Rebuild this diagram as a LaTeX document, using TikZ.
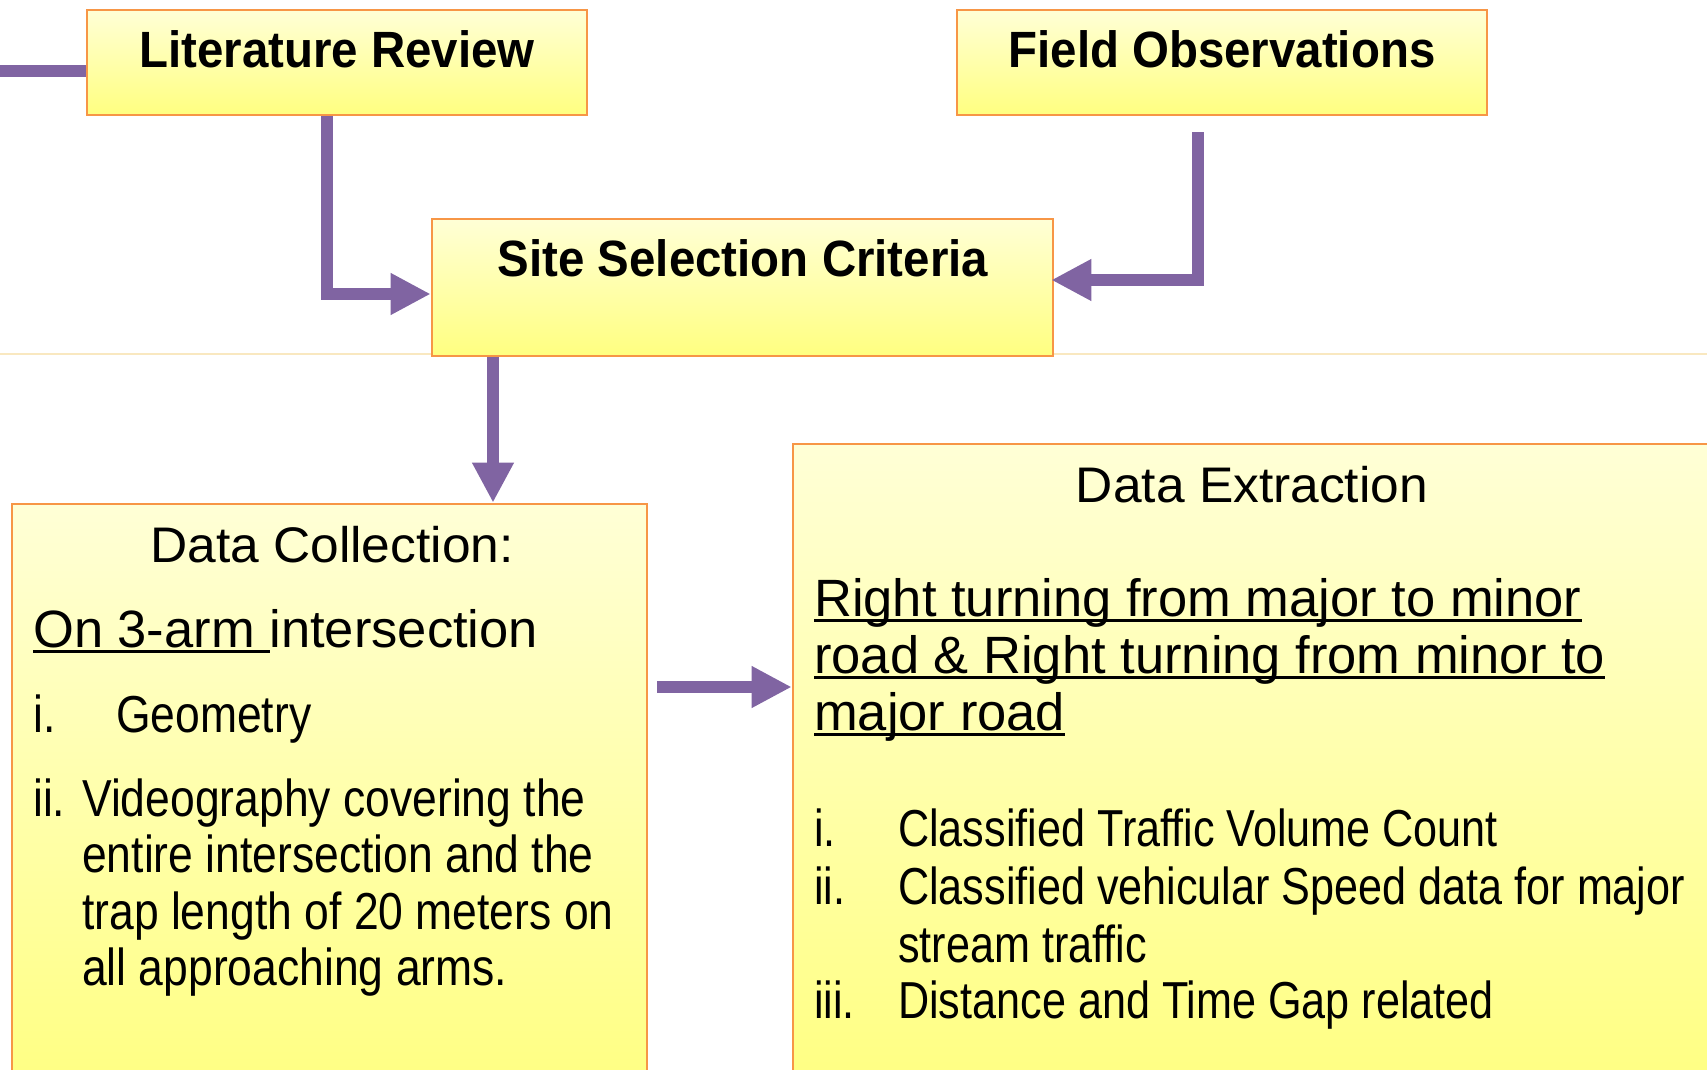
\documentclass[tikz,border=0pt]{standalone}
\usepackage{fontspec}
\setmainfont{Liberation Sans}
\newfontfamily\titlefont[FakeStretch=0.93]{Liberation Sans}
\newfontfamily\headfont[FakeStretch=1.03]{Liberation Sans}
\newfontfamily\condfont[FakeStretch=0.83]{Liberation Sans}
\newfontfamily\condwidefont[FakeStretch=0.855]{Liberation Sans}
\usetikzlibrary{arrows.meta}

\definecolor{boxtop}{RGB}{255,255,214}
\definecolor{boxbot}{RGB}{255,255,128}
\definecolor{boxedge}{RGB}{247,150,70}
\definecolor{flow}{RGB}{128,100,162}
\definecolor{guide}{RGB}{249,232,192}

% underline sitting just under the baseline, crossing the descenders
\newsavebox\ulinebox
\newcommand\uline[1]{\sbox\ulinebox{#1}\rlap{\rule[-6pt]{\wd\ulinebox}{2.6pt}}\usebox\ulinebox}

\tikzset{
  stagebox/.style={draw=boxedge, line width=2.6pt, top color=boxtop, bottom color=boxbot,
    rectangle, inner sep=0pt},
  titletext/.style={inner sep=0pt, anchor=base, font=\titlefont\bfseries\fontsize{51}{60}\selectfont},
  headtext/.style={inner sep=0pt, anchor=base, font=\headfont\fontsize{50}{58}\selectfont},
  ultext/.style={inner sep=0pt, anchor=base west, font=\fontsize{52.5}{58}\selectfont},
  itemtext/.style={inner sep=0pt, anchor=base west, font=\condfont\fontsize{52}{58}\selectfont},
  itemwide/.style={itemtext, font=\condwidefont\fontsize{52}{58}\selectfont},
  flowline/.style={draw=flow, line width=12pt},
  flowarrow/.style={flowline, -{Triangle[length=40pt,width=39pt]}},
}

\begin{document}
\begin{tikzpicture}[x=1pt,y=-1pt]
\useasboundingbox (0,0) rectangle (1707,1070);
\clip (0,0) rectangle (1707,1070);

% faint rule across the page
\draw[guide, line width=1.3pt] (0,354) -- (1707,354);

% boxes
\node[stagebox, minimum width=500pt, minimum height=105pt] (lit) at (337,62.5) {};
\node[stagebox, minimum width=530pt, minimum height=105pt] (field) at (1222,62.5) {};
\node[stagebox, minimum width=621pt, minimum height=137pt] (site) at (742.5,287.5) {};
\node[stagebox, minimum width=635pt, minimum height=600pt] (dc) at (329.5,804) {};
\node[stagebox, minimum width=918pt, minimum height=660pt] (de) at (1252,774) {};

% box titles
\node[titletext] (littxt) at (337,68) {Literature Review};
\node[titletext] (fieldtxt) at (1222,68) {Field Observations};
\node[titletext] (sitetxt) at (743,276) {Site Selection Criteria};

% data collection text
\node[headtext] (dchead) at (332,562) {Data Collection:};
\node[ultext] (dcsub) at (33,647) {\uline{On 3-arm\ }intersection};
\node[itemwide] (dcin1) at (33,732) {i.};
\node[itemwide] (dcit1) at (116,732) {Geometry};
\node[itemwide] (dcin2) at (33,816) {ii.};
\node[itemwide] (dcit2a) at (82,816) {Videography covering the};
\node[itemwide] (dcit2b) at (82,872.5) {entire intersection and the};
\node[itemwide] (dcit2c) at (82,929) {trap length of 20 meters on};
\node[itemwide] (dcit2d) at (82,985) {all approaching arms.};

% data extraction text
\node[headtext] (dehead) at (1252,502) {Data Extraction};
\node[ultext] (desub1) at (814,616) {\uline{Right turning from major to minor}};
\node[ultext] (desub2) at (814,673) {\uline{road \& Right turning from minor to}};
\node[ultext] (desub3) at (814,730) {\uline{major road}};
\node[itemtext] (dein1) at (814,846) {i.};
\node[itemtext] (deit1) at (898,846) {Classified Traffic Volume Count};
\node[itemtext] (dein2) at (814,904) {ii.};
\node[itemtext] (deit2a) at (898,904) {Classified vehicular Speed data for major};
\node[itemtext] (deit2b) at (898,962) {stream traffic};
\node[itemtext] (dein3) at (814,1018) {iii.};
\node[itemtext] (deit3) at (898,1018) {Distance and Time Gap related};

% connectors
\coordinate (offleft) at (-10,71);
\draw[flowline] (offleft) -- (offleft -| lit.west);
\draw[flowarrow] ([xshift=-10pt]lit.south) |- ([yshift=-6.5pt]site.west);
\draw[flowarrow] ([xshift=-24pt,yshift=-16pt]field.south) |- ([xshift=-3pt,yshift=7.5pt]site.east);
\draw[flowarrow] ([xshift=-249.5pt]site.south) -- ([xshift=-249.5pt]site.south |- dc.north);
\coordinate (dcout) at (657,687);
\draw[flowarrow] (dcout) -- (dcout -| de.west);
\end{tikzpicture}
\end{document}
